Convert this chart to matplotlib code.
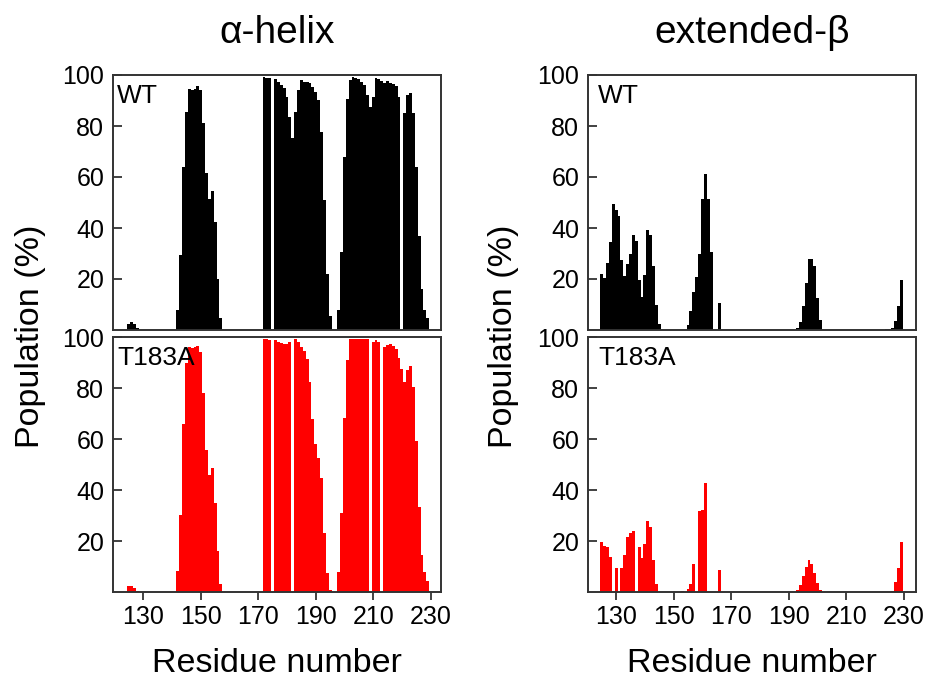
import numpy as np
import matplotlib
matplotlib.use('Agg')
import matplotlib.pyplot as plt

plt.rcParams['font.family'] = ['Liberation Sans', 'DejaVu Sans']

# residue axis
residues = np.arange(120, 235)

# populations (%), given as {first residue: consecutive values}
helix_wt = {
    125: [2.5, 3.0, 2.2, 0.9],
    142: [7.8, 29.4, 64, 85.6, 94.5, 94, 94.5, 95.7, 94, 81.3, 61.4, 51.4, 54.5, 42.4, 20, 4.6],
    172: [99.3, 99, 99, 0, 98.4, 97.1, 96, 95, 91.5, 83.5, 75.4, 85.5, 94, 98, 97.4, 97.1,
          96.7, 95.4, 93.5, 90, 77.5, 51, 22, 5.5],
    198: [8, 30.7, 68, 90.6, 98, 99.3, 99, 98.3, 97.4, 96, 92, 87.6, 91.5, 99, 98.5, 97.5,
          96.7, 97.5, 97, 96.5, 95.8, 91.5, 0, 85, 92, 93, 85, 64, 37, 16, 8, 4.6],
}
helix_t183a = {
    125: [2.5, 2.5, 1.8, 0.5],
    142: [8.5, 30.3, 65.9, 89.8, 96, 95.7, 96.3, 96.7, 94.3, 78.3, 55.8, 46, 48.9, 34.9, 16.3, 3.2],
    172: [99.3, 99.3, 99, 0, 99, 98.3, 97.7, 97.4, 97.4, 98.3, 0, 99.2, 98.3, 96.3, 94.8,
          91.4, 82.6, 67.8, 58.1, 52.5, 44.7, 23.1, 7.4, 0.9],
    198: [7.8, 31, 68.2, 91, 99.3, 99.5, 99.5, 99.5, 99.3, 99.3, 99.3, 0, 98.3, 99, 98.3, 0,
          96, 97, 97.2, 96.6, 95.3, 91.8, 87.5, 82.6, 87.2, 88.7, 80.6, 59.3, 33.5, 14.6, 7.8, 4.6],
}
beta_wt = {
    125: [22, 20.5, 26.1, 34.4, 49.4, 47, 44.7, 27.5, 21.2, 25.9, 30, 37.1, 35, 19.6, 12.8,
          21.6, 39.2, 37.1, 25.1, 9.8, 2.4],
    155: [2, 7.5, 14.9, 20.8, 30, 51.2, 61.2, 51.2, 30.5, 0, 0, 10.6],
    193: [0.7, 3, 9.4, 18.3, 27.8, 27.8, 25, 12.4, 3.9],
    224: [0.4, 0.4, 0.9, 3.7, 9.4, 19.6],
}
beta_t183a = {
    125: [19.7, 18.2, 17.7, 13.8, 0, 9.5, 0, 9.5, 14.6, 21.8, 23.4, 24, 0, 17.7, 13.5, 18.9,
          28, 25.6, 12.7, 3.3],
    153: [0.5, 0, 1.3, 3.3, 11.1, 0, 31.9, 32.3, 43, 0, 0, 0, 0, 8.8],
    193: [0.9, 2.8, 6.4, 10, 12.8, 11, 7.7, 3.5, 0.9],
    226: [0.5, 4, 9.5, 19.7],
}

titles = ['α-helix', 'extended-β']
variants = ['WT', 'T183A']
colors = ['black', '#ff0000']
xticks = [130, 150, 170, 190, 210, 230]
yticks = [20, 40, 60, 80, 100]


def expand(segments):
    vals = np.zeros(len(residues))
    for start, seg in segments.items():
        i = start - residues[0]
        vals[i:i + len(seg)] = seg
    return vals


data = [[helix_wt, beta_wt], [helix_t183a, beta_t183a]]

fig = plt.figure(figsize=(9.3, 6.78), dpi=100)
W, H = 930.0, 678.0
lefts = [112.7, 587.7]
xlims = [(119.35, 233.5), (120.15, 234.05)]
tops = [75.0, 337.3]
aw, ah = 328.0, 255.0
spine_col = '#333333'

for r in range(2):
    for c in range(2):
        ax = fig.add_axes([lefts[c] / W, 1 - (tops[r] + ah) / H, aw / W, ah / H])
        vals = expand(data[r][c])
        m = vals > 0
        ax.bar(residues[m], vals[m], width=1.0, color=colors[r], linewidth=0)
        ax.set_xlim(*xlims[c])
        ax.set_ylim(0, 100)
        ax.set_yticks(yticks)
        ax.set_xticks(xticks)
        for s in ax.spines.values():
            s.set_color(spine_col)
            s.set_linewidth(1.4)
        ax.tick_params(axis='y', direction='in', length=6.5, width=1.3,
                       color=spine_col, labelsize=18, pad=6)
        if r == 0:
            ax.tick_params(axis='x', bottom=False, labelbottom=False)
        else:
            ax.tick_params(axis='x', direction='out', length=6, width=1.3,
                           color=spine_col, labelsize=18, pad=3)
        tx = 0.014 if c == 0 else 0.032
        ax.text(tx, 0.965, variants[r], transform=ax.transAxes,
                ha='left', va='top', fontsize=19)

for c in range(2):
    cx = (lefts[c] + aw / 2) / W
    fig.text(cx, 1 - 33 / H, titles[c], ha='center', va='center', fontsize=28)
    fig.text(cx, 1 - 663 / H, 'Residue number', ha='center', va='center', fontsize=24.5)

fig.text(31 / W, 1 - 336 / H, 'Population (%)', rotation=90, ha='center', va='center', fontsize=24.5)
fig.text(503 / W, 1 - 336 / H, 'Population (%)', rotation=90, ha='center', va='center', fontsize=24.5)

fig.savefig('out.png', dpi=100)
